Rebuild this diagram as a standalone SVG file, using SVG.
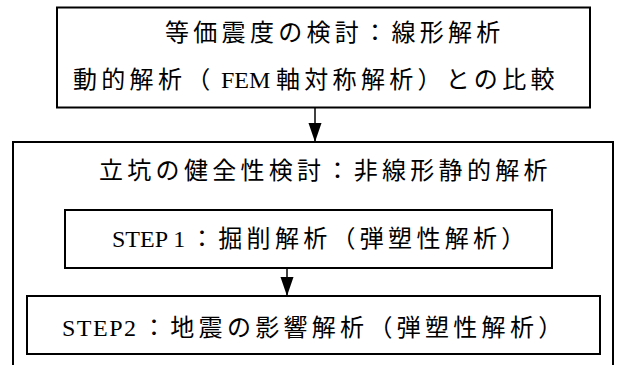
<svg xmlns="http://www.w3.org/2000/svg" width="617" height="365" viewBox="0 0 617 365">
<style>
.box{fill:#fff;stroke:#000;stroke-width:2}
.t{font-family:"Liberation Serif","Noto Sans CJK JP",serif;font-size:24px;fill:#000}
.j{letter-spacing:4.3px}
.c{stroke:#000;stroke-width:1.5;fill:none}
</style>
<defs>
<marker id="ah" markerUnits="userSpaceOnUse" markerWidth="20" markerHeight="14" refX="19" refY="7" orient="auto" viewBox="0 0 20 14">
<path d="M0,0.5 L19,7 L0,13.5 Z" fill="#000"/>
</marker>
</defs>
<g id="outer">
<path d="M13,366 V142 H613 V366" class="box"/>
<text class="t j" x="99" y="179">立坑の健全性検討：非線形静的解析</text>
</g>
<g id="top">
<rect x="57" y="7.5" width="533" height="100" class="box"/>
<text class="t j" x="165" y="41">等価震度の検討：線形解析</text>
<text class="t" y="88"><tspan class="j" x="73">動的解析（</tspan><tspan x="221">FEM</tspan><tspan class="j" x="276">軸対称解析）との比較</tspan></text>
</g>
<g id="step1">
<rect x="65" y="210" width="487" height="58" class="box"/>
<text class="t" y="247"><tspan x="112">STEP 1</tspan><tspan class="j" x="190">：掘削解析（弾塑性解析）</tspan></text>
</g>
<g id="step2">
<rect x="27" y="296" width="573" height="58" class="box"/>
<text class="t" y="336"><tspan x="62" style="letter-spacing:1.5px">STEP2</tspan><tspan class="j" x="142">：地震の影響解析（弾塑性解析）</tspan></text>
</g>
<g id="connectors">
<line x1="315" y1="108" x2="315" y2="142" class="c" marker-end="url(#ah)"/>
<line x1="287" y1="268" x2="287" y2="296" class="c" marker-end="url(#ah)"/>
</g>
</svg>
